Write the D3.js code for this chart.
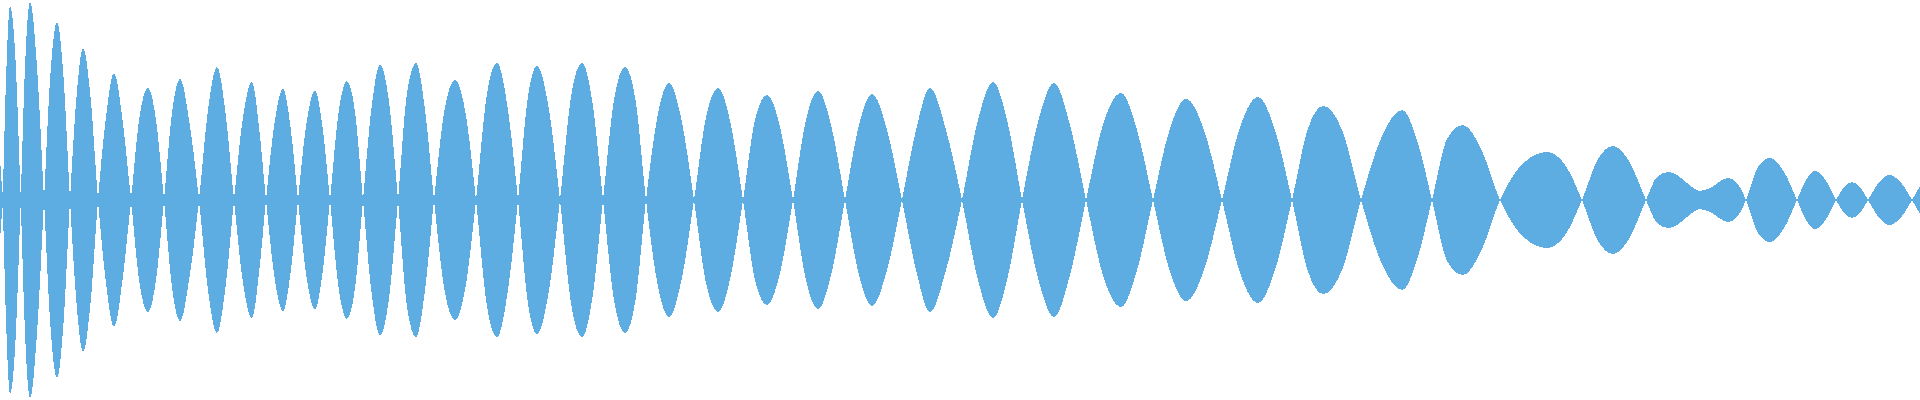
<!DOCTYPE html>
<html>
<head>
<meta charset="utf-8">
<script src="https://cdn.jsdelivr.net/npm/d3@7"></script>
<style>
  html, body { margin: 0; padding: 0; background: #ffffff; }
  svg { display: block; }
</style>
</head>
<body>
<svg id="chart" width="1920" height="400"></svg>
<script>
// Sample positions (time axis)
const times = [
  0, 2.5, 6, 10, 15.5, 20.7, 25, 30, 37, 44, 50.5, 57, 63.5, 70, 76.5, 83, 90.5, 98,
  106, 114, 122.5, 131, 139.5, 148, 156, 164, 172, 180, 189.5, 199, 208, 217, 225.5, 234,
  243, 252, 259, 266, 274.5, 283, 290.5, 298, 306.5, 315, 322.5, 330, 338.5, 347, 355, 363,
  371.5, 380, 389, 398, 407, 416, 425, 434, 444.5, 455, 465.5, 476, 486.5, 497, 507.5, 518,
  527.5, 537, 548.5, 560, 571, 582, 592.5, 603, 614, 625, 635.5, 646, 657.5, 669, 681.5, 694,
  706, 718, 730.5, 743, 755, 767, 780, 793, 805.5, 818, 831.5, 845, 858.5, 872, 887, 902,
  916, 930, 946, 962, 977.5, 993, 1007.5, 1022, 1038, 1054, 1070, 1086, 1103.5, 1121, 1137, 1153,
  1169.5, 1186, 1204, 1222, 1240, 1258, 1275, 1292, 1307.5, 1323, 1342, 1361, 1381.5, 1402, 1417, 1432,
  1447.5, 1463, 1481.5, 1500, 1523.5, 1547, 1564.5, 1582, 1597.5, 1613, 1629.5, 1646,
  1657, 1668, 1677, 1687, 1700, 1710, 1728, 1737, 1746, 1758, 1770, 1783.5, 1797,
  1806, 1815, 1825.5, 1836, 1844, 1852, 1860, 1868, 1878.5, 1889, 1900.5, 1912, 1920
];

// Signed envelope of the waveform (sign alternates from lobe to lobe)
const envelope = [
  -40, 0, 120, 194, 140, 0, -133, -198, -133, 0, 127, 178, 123, 0, -103, -152, -103, 0,
  83, 127, 80, 0, -83, -112, -80, 0, 87, 121, 77, 0, -90, -133, -87, 0,
  83, 118, 73, 0, -77, -111, -73, 0, 77, 109, 73, 0, -87, -119, -88, 0,
  92, 135, 98, 0, -107, -137, -90, 0, 90, 120, 87, 0, -103, -137, -93, 0,
  100, 134, 93, 0, -103, -137, -97, 0, 100, 133, 100, 0, -84, -117, -80, 0,
  83, 112, 77, 0, -80, -105, -73, 0, 78, 109, 73, 0, -73, -106, -70, 0,
  70, 112, 70, 0, -78, -118, -78, 0, 78, 117, 75, 0, -77, -107, -70, 0,
  70, 101, 70, 0, -73, -103, -70, 0, 70, 94, 70, 0, -63, -90, -60, 0,
  62, 75, 50, 0, -37, -48, -36, 0, 40, 54, 38, 0,
  -23, -28, -25, -17, -9, -12, -22, -17, 0, 33, 42, 29, 0,
  -20, -29, -20, 0, 13, 18, 13, 0, -17, -25, -18, 0, 14
];

// Thin core band visible at the nodes
const neckTimes = [0, 100, 300, 640, 960, 1300, 1920];
const neckWidth = [8, 7, 5, 3, 2, 1, 1];

const width = 1920, height = 400;
const svg = d3.select("#chart");

const x = d3.scaleLinear().domain([0, 1920]).range([0, width]);
const y = d3.scaleLinear().domain([-200, 200]).range([height, 0]);

const data = times.map((t, i) => ({ t, v: envelope[i] }));
const neck = neckTimes.map((t, i) => ({ t, v: neckWidth[i] }));

const fill = "#5DADE2";

const wave = d3.area()
  .x(d => x(d.t))
  .y0(d => y(-d.v))
  .y1(d => y(d.v))
  .curve(d3.curveMonotoneX);

const core = d3.area()
  .x(d => x(d.t))
  .y0(d => y(-d.v))
  .y1(d => y(d.v))
  .curve(d3.curveLinear);

svg.append("path")
  .datum(neck)
  .attr("d", core)
  .attr("fill", fill)
  .attr("shape-rendering", "crispEdges");

svg.append("path")
  .datum(data)
  .attr("d", wave)
  .attr("fill", fill)
  .attr("fill-rule", "nonzero")
  .attr("shape-rendering", "crispEdges");
</script>
</body>
</html>
